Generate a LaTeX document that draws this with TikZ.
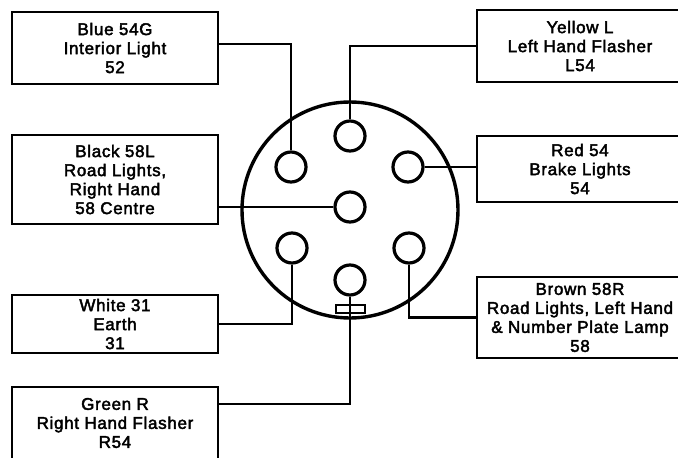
\documentclass[tikz,border=0pt]{standalone}
\usepackage{fontspec}
\setmainfont{Liberation Sans}[LetterSpace=4,FakeBold=2.5]
\begin{document}
\begin{tikzpicture}[x=1pt,y=-1pt,
  box/.style={draw,line width=2.8pt,rectangle,inner sep=0pt,align=center,
    font=\fontsize{17}{19}\selectfont},
  pin/.style={draw,line width=3.2pt,circle,minimum size=30pt,inner sep=0pt},
  wire/.style={line width=2.4pt}]
\useasboundingbox (0,0) rectangle (678,458);
\clip (0,0) rectangle (678,458);
% connector body
\node[draw,line width=3.4pt,circle,minimum size=216pt,inner sep=0pt] (body) at (350,210) {};
\node[pin] (p0) at (350,136) {};
\node[pin] (p1) at (291,167) {};
\node[pin] (p2) at (408,167) {};
\node[pin] (pc) at (350,207) {};
\node[pin] (p4) at (292,248) {};
\node[pin] (p5) at (409,248) {};
\node[pin] (p6) at (350,280) {};
% boxes left
\node[box,minimum width=206pt,minimum height=72pt] (blue) at (115,48) {Blue 54G\\Interior Light\\52};
\node[box,minimum width=206pt,minimum height=89pt] (black) at (115,179.5) {Black 58L\\Road Lights,\\Right Hand\\58 Centre};
\node[box,minimum width=206pt,minimum height=58pt] (white) at (115,324) {White 31\\Earth\\31};
\node[box,minimum width=206pt,minimum height=72pt] (green) at (115,423) {Green R\\Right Hand Flasher\\R54};
% boxes right
\node[box,minimum width=206pt,minimum height=72pt] (yellow) at (580,46) {Yellow L\\Left Hand Flasher\\L54};
\node[box,minimum width=206pt,minimum height=66pt] (red) at (580,169) {Red 54\\Brake Lights\\54};
\node[box,minimum width=206pt,minimum height=81pt] (brown) at (580,317.5) {Brown 58R\\Road Lights, Left Hand\\\& Number Plate Lamp\\58};
% wires
\draw[wire] ([yshift=4pt]blue.east) -| (p1.north);
\draw[wire] (yellow.west) -| (p0.north);
\draw[wire] (pc.west -| black.east) -- (pc.west);
\draw[wire] (p2.east) -- (p2.east -| red.west);
\draw[wire] (p4.south) |- (white.east);
\draw[wire] (p5.south) |- (brown.west);
\draw[wire] (p6.south) |- ([yshift=19pt]green.east);
% locating tab
\node[draw,line width=2.4pt,rectangle,minimum width=29pt,minimum height=8pt,inner sep=0pt] (tab) at (350.5,309) {};
\end{tikzpicture}
\end{document}
